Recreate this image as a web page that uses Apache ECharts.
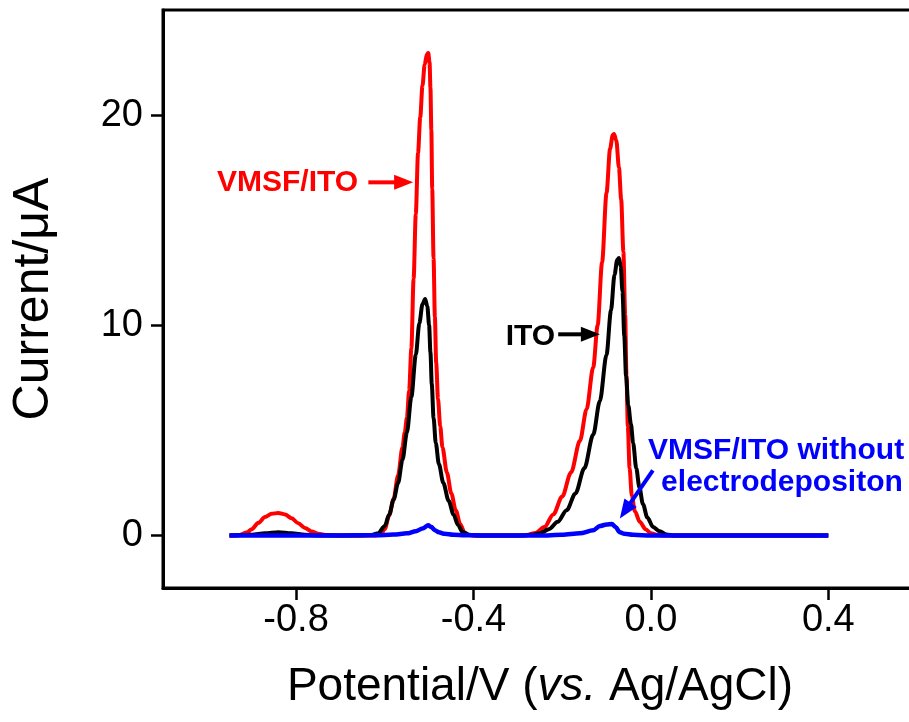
<!DOCTYPE html>
<html>
<head>
<meta charset="utf-8">
<script src="https://cdn.jsdelivr.net/npm/echarts@6/dist/echarts.min.js"></script>
<style>
  html, body { margin: 0; padding: 0; background: #fff; }
  #chart { width: 909px; height: 722px; }
</style>
</head>
<body>
<div id="chart"></div>
<script>
// Differential pulse voltammograms: potential (V vs. Ag/AgCl) and current (µA)

// VMSF/ITO
const redPotential = [
  -0.95, -0.93, -0.91, -0.90, -0.885, -0.87, -0.855, -0.84, -0.825, -0.81, -0.795, -0.78, -0.765, -0.75, -0.73, -0.70,
  -0.62, -0.61, -0.60, -0.59, -0.58, -0.57, -0.56, -0.555, -0.55, -0.545, -0.54, -0.535, -0.53, -0.525, -0.52, -0.515,
  -0.51, -0.505, -0.502, -0.499, -0.497, -0.495, -0.493, -0.49, -0.487, -0.484, -0.48, -0.475, -0.47, -0.46, -0.45,
  -0.44, -0.43, -0.42, -0.41, -0.40,
  -0.30, -0.28, -0.26, -0.24, -0.22, -0.20, -0.18, -0.16, -0.145, -0.13, -0.12, -0.11, -0.10, -0.092, -0.086, -0.083,
  -0.078, -0.072, -0.067, -0.062, -0.058, -0.055, -0.052, -0.048, -0.043, -0.036, -0.025, -0.012, 0.0, 0.015, 0.03,
  0.10, 0.20, 0.30, 0.40
];
const redCurrent = [
  0, 0.01, 0.15, 0.3, 0.6, 0.88, 1.03, 1.07, 1.0, 0.82, 0.58, 0.36, 0.19, 0.08, 0.02, 0,
  0, 0.03, 0.3, 0.95, 1.75, 2.85, 4.2, 4.9, 5.6, 6.9, 8.9, 12.2, 15.3, 18.2, 19.9, 21.4,
  22.4, 22.9, 22.95, 22.5, 21.3, 19.3, 16.5, 13.2, 10.4, 8.2, 6.5, 5.2, 4.2, 3.0, 2.0,
  1.2, 0.55, 0.12, 0.02, 0,
  0, 0.02, 0.12, 0.4, 1.0, 1.85, 3.0, 4.5, 6.0, 8.0, 10.0, 13.0, 16.3, 18.4, 19.05, 19.1,
  18.8, 17.5, 16.0, 13.5, 10.5, 7.6, 5.2, 3.2, 1.9, 1.15, 0.65, 0.3, 0.1, 0.02, 0,
  0, 0, 0, 0
];

// ITO
const blackPotential = [
  -0.95, -0.90, -0.87, -0.84, -0.81, -0.78, -0.74,
  -0.66, -0.63, -0.615, -0.60, -0.59, -0.58, -0.57, -0.56, -0.55, -0.54, -0.53, -0.522, -0.515, -0.509, -0.504,
  -0.50, -0.497, -0.494, -0.49, -0.485, -0.478, -0.468, -0.456, -0.445, -0.435, -0.425, -0.41, -0.39,
  -0.29, -0.27, -0.25, -0.23, -0.21, -0.19, -0.17, -0.15, -0.13, -0.115, -0.10, -0.09, -0.082, -0.076, -0.072,
  -0.068, -0.064, -0.06, -0.056, -0.051, -0.045, -0.04, -0.033, -0.026, -0.018, -0.008, 0.005, 0.02, 0.035, 0.05,
  0.20, 0.40
];
const blackCurrent = [
  0, 0.03, 0.1, 0.15, 0.1, 0.03, 0,
  0, 0.02, 0.1, 0.45, 1.0, 1.7, 2.5, 3.6, 4.9, 6.6, 8.6, 10.1, 11.0, 11.25, 10.9,
  10.0, 8.7, 7.2, 5.6, 4.4, 3.4, 2.5, 1.65, 1.0, 0.5, 0.18, 0.03, 0,
  0, 0.03, 0.1, 0.3, 0.65, 1.2, 2.0, 3.2, 4.8, 6.4, 8.6, 10.7, 12.4, 13.1, 13.2,
  12.8, 11.6, 9.5, 7.6, 6.2, 5.3, 4.4, 3.2, 2.3, 1.5, 0.85, 0.4, 0.2, 0.04, 0,
  0, 0
];

// VMSF/ITO without electrodeposition
const bluePotential = [
  -0.95, -0.80, -0.70, -0.62, -0.58, -0.55, -0.53, -0.515, -0.502, -0.495, -0.487, -0.478, -0.465, -0.445, -0.42, -0.38,
  -0.25, -0.20, -0.16, -0.13, -0.115, -0.10, -0.088, -0.08, -0.07, -0.06, -0.04, 0.0, 0.20, 0.40
];
const blueCurrent = [
  0, 0, 0, 0.01, 0.04, 0.1, 0.2, 0.33, 0.48, 0.4, 0.25, 0.15, 0.08, 0.03, 0.01, 0,
  0, 0.03, 0.1, 0.25, 0.45, 0.52, 0.55, 0.4, 0.15, 0.08, 0.03, 0, 0, 0
];

const xTicks = [-0.8, -0.4, 0.0, 0.4];
const yTicks = [0, 10, 20];

const FONT = '"Liberation Sans", Arial, sans-serif';
const pairs = (xs, ys) => xs.map((x, i) => [x, ys[i]]);

const chart = echarts.init(document.getElementById('chart'), null, { renderer: 'canvas' });

const lineSeries = (name, color, xs, ys, width) => ({
  name,
  type: 'line',
  data: pairs(xs, ys),
  showSymbol: false,
  smooth: 0.3,
  smoothMonotone: 'x',
  lineStyle: { color, width },
  itemStyle: { color },
  animation: false
});

chart.setOption({
  animation: false,
  backgroundColor: '#fff',
  grid: {
    left: 163, top: 10, right: -8, bottom: 134,
    containLabel: false, outerBoundsMode: 'none',
    show: true, borderColor: '#000', borderWidth: 3, backgroundColor: 'transparent'
  },
  xAxis: {
    type: 'value',
    min: -1.1, max: 0.6,
    axisLine: { show: true, onZero: false, lineStyle: { color: '#000', width: 3 } },
    axisTick: { show: true, inside: false, length: 12, customValues: xTicks, lineStyle: { color: '#000', width: 2.5 } },
    axisLabel: {
      customValues: xTicks, margin: 14,
      formatter: v => v.toFixed(1),
      color: '#000', fontSize: 38, fontFamily: FONT
    },
    splitLine: { show: false },
    name: '{n|Potential/V (}{i|vs.}{n| Ag/AgCl)}',
    nameLocation: 'middle', nameGap: 76,
    nameTextStyle: {
      rich: {
        n: { fontSize: 46, fontFamily: FONT, color: '#000' },
        i: { fontSize: 46, fontFamily: FONT, fontStyle: 'italic', color: '#000' }
      }
    }
  },
  yAxis: {
    type: 'value',
    min: -2.5, max: 25,
    axisLine: { show: true, onZero: false, lineStyle: { color: '#000', width: 3 } },
    axisTick: { show: true, inside: false, length: 12, customValues: yTicks, lineStyle: { color: '#000', width: 2.5 } },
    axisLabel: {
      customValues: yTicks, margin: 20,
      formatter: v => String(v),
      color: '#000', fontSize: 38, fontFamily: FONT
    },
    splitLine: { show: false },
    name: 'Current/μA',
    nameLocation: 'middle', nameRotate: 90, nameGap: 104,
    nameTextStyle: { fontSize: 50, fontFamily: FONT, color: '#000' }
  },
  series: [
    lineSeries('VMSF/ITO', '#ff0000', redPotential, redCurrent, 4),
    lineSeries('ITO', '#000000', blackPotential, blackCurrent, 4),
    lineSeries('VMSF/ITO without electrodeposition', '#0000ff', bluePotential, blueCurrent, 4.5)
  ]
});

// Callouts, anchored in data coordinates
const px = p => chart.convertToPixel({ gridIndex: 0 }, p);

function arrow(from, to, color) {
  const p0 = px(from), p1 = px(to);
  const dx = p1[0] - p0[0], dy = p1[1] - p0[1];
  const L = Math.hypot(dx, dy), ux = dx / L, uy = dy / L;
  const head = 19, half = 7.5;
  const bx = p1[0] - ux * head, by = p1[1] - uy * head;
  return [
    { type: 'line', shape: { x1: p0[0], y1: p0[1], x2: bx + ux * 2, y2: by + uy * 2 },
      style: { stroke: color, lineWidth: 4 }, z: 100 },
    { type: 'polygon',
      shape: { points: [[p1[0], p1[1]], [bx - uy * half, by + ux * half], [bx + uy * half, by - ux * half]] },
      style: { fill: color }, z: 100 }
  ];
}

function label(text, at, color) {
  const p = px(at);
  return {
    type: 'text', x: p[0], y: p[1], z: 100,
    style: {
      text, fill: color, font: 'bold 30px ' + FONT,
      textAlign: 'right', textVerticalAlign: 'middle'
    }
  };
}

chart.setOption({
  graphic: [
    label('VMSF/ITO', [-0.66, 16.8], '#ff0000'),
    ...arrow([-0.637, 16.8], [-0.536, 16.8], '#ff0000'),
    label('ITO', [-0.216, 9.45], '#000000'),
    ...arrow([-0.209, 9.57], [-0.115, 9.57], '#000000'),
    label('VMSF/ITO without', [0.571, 4.05], '#0000ff'),
    label('electrodepositon', [0.568, 2.52], '#0000ff'),
    ...arrow([0.0045, 3.1], [-0.070, 0.81], '#0000ff')
  ]
});
</script>
</body>
</html>
